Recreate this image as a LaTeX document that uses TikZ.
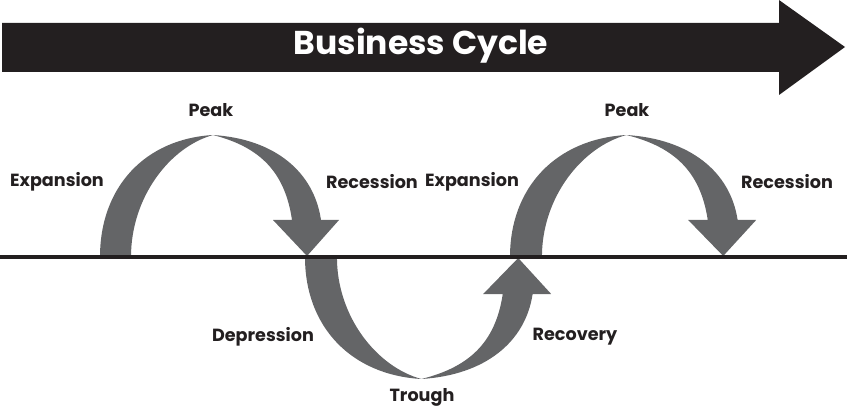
\documentclass[tikz,border=0pt]{standalone}
\usepackage{fontspec}
\setmainfont{Poppins}
\definecolor{arcgray}{RGB}{100,101,103}
\definecolor{ink}{RGB}{35,31,32}

% one gray ribbon arc, base at the local origin
\newcommand{\cyclearc}{%
  \fill[arcgray] (0,0) .. controls (0,-70) and (45,-118) .. (113,-122)
    .. controls (175,-118) and (214,-85) .. (221,-37)
    -- (239,-37) -- (207,-1) -- (173,-37) -- (192,-37)
    .. controls (185,-85) and (160,-110) .. (113,-122)
    .. controls (70,-110) and (31,-60) .. (31,0) -- cycle;}

\begin{document}
\begin{tikzpicture}[x=1pt,y=-1pt,
    lbl/.style={font=\fontsize{17.6}{20}\selectfont\bfseries, text=ink}]
    \useasboundingbox (0,0) rectangle (847,409);

    % title arrow
    \fill[ink] (2,23) -- (779,23) -- (779,0) -- (845,47) -- (779,95) -- (779,72) -- (2,72) -- cycle;
    \node[font=\fontsize{33}{38}\selectfont\bfseries, text=white] (title) at (421,46) {Business Cycle};

    % arcs
    \begin{scope}[shift={(100,257)}]
        \cyclearc
    \end{scope}
    \begin{scope}[shift={(305,257)},xscale=1.03,yscale=-1]
        \cyclearc
    \end{scope}
    \begin{scope}[shift={(510,257)},xscale=1.03]
        \cyclearc
    \end{scope}

    % axis
    \draw[line width=4.3pt,ink] (0,257) -- (847,257);

    \node[lbl] (peakA) at (211,110) {Peak};
    \node[lbl] (expA) at (57,182) {Expansion};
    \node[lbl] (recA) at (372,182) {Recession};
    \node[lbl] (expB) at (472,182) {Expansion};
    \node[lbl] (peakB) at (627,110) {Peak};
    \node[lbl] (recB) at (787,182) {Recession};
    \node[lbl] (dep) at (263,337) {Depression};
    \node[lbl] (trough) at (422,397) {Trough};
    \node[lbl] (recov) at (575,337) {Recovery};
\end{tikzpicture}
\end{document}
